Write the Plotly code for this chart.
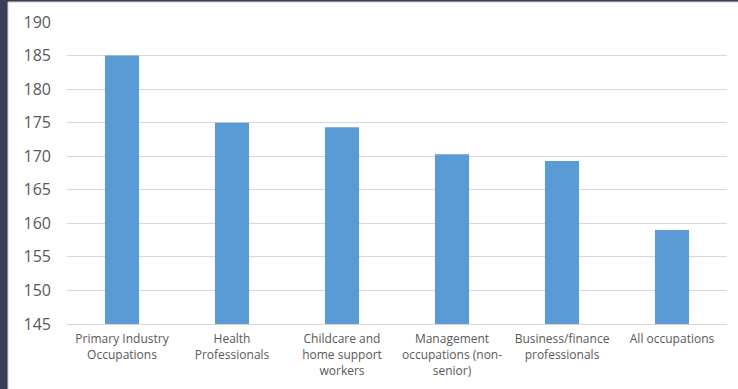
import plotly.graph_objects as go

categories = [
    "Primary Industry<br>Occupations",
    "Health<br>Professionals",
    "Childcare and<br>home support<br>workers",
    "Management<br>occupations (non-<br>senior)",
    "Business/finance<br>professionals",
    "All occupations",
]
values = [185.0, 175.0, 174.3, 170.3, 169.3, 159.0]
y_ticks = [145, 150, 155, 160, 165, 170, 175, 180, 185, 190]

W, H = 738, 389
L, R, T, B = 67, 11, 22, 65
pw, ph = W - L - R, H - T - B

def px_to_paper_x(px):
    return (px - L) / pw

def px_to_paper_y(py):
    return (H - B - py) / ph

fig = go.Figure()
fig.add_trace(go.Bar(
    x=categories, y=values,
    marker=dict(color="#5B9BD5", line=dict(width=0)),
    width=0.31,
))

fig.update_layout(
    width=W, height=H,
    margin=dict(l=L, r=R, t=T, b=B),
    paper_bgcolor="#3c3e55",
    plot_bgcolor="rgba(0,0,0,0)",
    showlegend=False,
    font=dict(family="Open Sans, Noto Sans, sans-serif", color="#595959"),
    shapes=[
        dict(type="rect", xref="paper", yref="paper", layer="below",
             x0=px_to_paper_x(8), x1=px_to_paper_x(W + 5),
             y0=px_to_paper_y(H + 5), y1=px_to_paper_y(2),
             fillcolor="white", line=dict(color="#d0d0d0", width=1)),
    ],
)
fig.update_xaxes(
    showgrid=False, showline=True, linecolor="#d9d9d9", linewidth=1,
    tickfont=dict(size=12, color="#595959"),
    ticks="", ticklabelstandoff=4,
)
fig.update_yaxes(
    range=[145, 190], tickvals=y_ticks,
    showgrid=True, gridcolor="#d9d9d9", gridwidth=1,
    zeroline=False, showline=False,
    tickfont=dict(size=16, color="#595959"),
    ticks="", ticklabelstandoff=15,
)

fig.write_html(
    "out.html",
    config={"displayModeBar": False},
    post_script="document.body.style.margin='0';document.body.style.overflow='hidden';",
)
